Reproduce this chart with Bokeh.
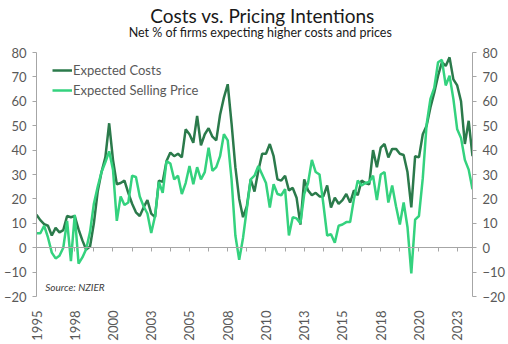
import math
from bokeh.plotting import figure
from bokeh.models import Range1d, LinearAxis, FixedTicker, Label
from bokeh.embed import file_html
from bokeh.resources import INLINE

# Quarterly data, 1995Q1 onward (net % of firms)
x_tick_labels = ["1995", "1998", "2000", "2003", "2005", "2008",
                 "2010", "2013", "2015", "2018", "2020", "2023"]

expected_costs = [
    13.5, 11.3, 9.7, 9.0, 5.0, 8.1, 6.3, 7.2, 13.0, 12.5,
    13.0, 7.5, 3.0, -0.8, 0.5, 10.0, 23.0, 31.0, 37.0, 51.0,
    36.0, 26.0, 26.5, 27.5, 22.5, 18.0, 14.5, 13.0, 16.5, 19.5,
    14.0, 12.5, 27.5, 27.0, 35.5, 39.0, 37.5, 38.5, 37.0, 48.5,
    46.5, 43.0, 54.0, 42.0, 46.5, 49.0, 45.5, 44.0, 54.5, 61.5,
    67.0, 51.0, 33.0, 20.0, 12.5, 17.0, 28.0, 23.0, 31.5, 38.5,
    38.5, 42.5, 37.5, 28.0, 27.5, 29.5, 23.5, 24.5, 20.5, 9.5,
    28.0, 23.5, 21.5, 22.5, 21.0, 21.0, 25.5, 16.5, 20.5, 18.0,
    19.5, 22.0, 18.5, 23.5, 21.5, 27.5, 26.5, 26.0, 40.0, 33.0,
    41.0, 42.5, 37.0, 40.5, 40.5, 38.5, 38.0, 31.0, 16.5, 37.5,
    37.0, 46.5, 50.0, 57.5, 63.5, 70.5, 76.0, 74.5, 78.0, 69.0,
    66.5, 60.0, 42.5, 52.0, 37.5,
]

expected_selling_price = [
    5.9, 5.9, 9.0, 4.2, -2.0, -4.4, -3.3, 0.0, 11.0, -5.5,
    13.5, -6.5, -4.0, -0.5, 6.5, 18.0, 25.0, 31.0, 35.0, 39.5,
    32.0, 11.0, 21.0, 17.5, 18.5, 29.5, 29.0, 21.0, 17.0, 14.0,
    6.0, 13.0, 27.0, 22.5, 35.5, 34.5, 28.0, 29.5, 22.0, 26.5,
    33.5, 26.0, 33.0, 28.0, 31.0, 41.0, 31.5, 33.0, 37.5, 46.5,
    44.0, 28.0, 5.0, -5.0, 4.0, 16.0, 28.0, 29.5, 33.5, 30.0,
    26.5, 16.5, 26.0, 22.0, 21.5, 24.0, 5.0, 12.5, 12.0, 10.0,
    22.0, 26.5, 36.0, 31.0, 30.0, 18.0, 5.0, 5.5, 2.0, 9.0,
    9.5, 10.5, 10.5, 20.0, 27.5, 25.5, 26.5, 27.0, 29.5, 19.5,
    30.0, 31.0, 18.5, 25.5, 17.0, 9.5, 18.5, 8.5, -10.5, 11.5,
    13.0, 28.5, 50.5, 61.0, 65.5, 76.0, 77.0, 66.5, 70.5, 61.0,
    48.5, 45.0, 36.0, 32.0, 24.0,
]

quarters = list(range(len(expected_costs)))
y_min, y_max = -20, 80

FONT = "Lato"
AXIS_GREY = "#a6a6a6"
LABEL_GREY = "#595959"
DARK = "#2b7a4b"
LIGHT = "#34d27e"

# frame spans the full height above the x labels; the value axes are bounded
# to -20..80 and the space above 80 holds the titles
FRAME_H = 344 - 48
AXIS_PX = 244
top_value = y_min + (y_max - y_min) * FRAME_H / AXIS_PX

p = figure(width=508, height=344, output_backend="svg", toolbar_location=None,
           x_range=Range1d(0, len(quarters) - 1), y_range=Range1d(y_min, top_value),
           x_axis_location=None,
           min_border_left=35, min_border_right=36, min_border_bottom=48,
           min_border_top=0)
p.outline_line_color = None
p.grid.visible = False
p.background_fill_color = "white"
p.border_fill_color = "white"

# titles (screen units from the frame's bottom-left corner)
p.add_layout(Label(x=226, y=FRAME_H - 15, x_units="screen", y_units="screen",
                   text="Costs vs. Pricing Intentions", text_font=FONT,
                   text_font_size="19px", text_color="#1a1a1a",
                   text_align="center", text_baseline="middle"))
p.add_layout(Label(x=224, y=FRAME_H - 32, x_units="screen", y_units="screen",
                   text="Net % of firms expecting higher costs and prices",
                   text_font=FONT, text_font_size="12.5px", text_color="#1a1a1a",
                   text_align="center", text_baseline="middle"))

# y axes
yticks = FixedTicker(ticks=list(range(y_min, y_max + 1, 10)))
for ax in p.yaxis:
    ax.ticker = yticks
p.add_layout(LinearAxis(ticker=yticks), "right")
for ax in p.yaxis:
    ax.bounds = (y_min, y_max)
    ax.axis_line_color = AXIS_GREY
    ax.major_tick_line_color = AXIS_GREY
    ax.minor_tick_line_color = None
    ax.major_tick_out = 4
    ax.major_tick_in = 0
    ax.major_label_standoff = 6
    ax.major_label_text_font = FONT
    ax.major_label_text_font_size = "13px"
    ax.major_label_text_color = LABEL_GREY

# x axis: line and ticks at zero
zero_axis = LinearAxis(fixed_location=0, ticker=FixedTicker(ticks=list(range(0, len(quarters), 5))))
zero_axis.axis_line_color = AXIS_GREY
zero_axis.major_tick_line_color = AXIS_GREY
zero_axis.minor_tick_line_color = None
zero_axis.major_tick_out = 4
zero_axis.major_tick_in = 0
zero_axis.major_label_text_alpha = 0
zero_axis.major_label_text_font_size = "1px"
p.add_layout(zero_axis, "below")

# x axis: labels at bottom
label_ticks = list(range(0, 10 * len(x_tick_labels), 10))
label_axis = LinearAxis(ticker=FixedTicker(ticks=label_ticks))
label_axis.major_label_overrides = {t: s for t, s in zip(label_ticks, x_tick_labels)}
label_axis.axis_line_color = None
label_axis.major_tick_line_color = None
label_axis.minor_tick_line_color = None
label_axis.major_label_orientation = math.pi / 2
label_axis.major_label_standoff = 8
label_axis.major_label_text_font = FONT
label_axis.major_label_text_font_size = "13px"
label_axis.major_label_text_color = LABEL_GREY
p.add_layout(label_axis, "below")

p.line(quarters, expected_costs, line_color=DARK, line_width=2.5,
       legend_label="Expected Costs")
p.line(quarters, expected_selling_price, line_color=LIGHT, line_width=2.5,
       legend_label="Expected Selling Price")

lg = p.legend[0]
lg.location = (16, FRAME_H - 100)
lg.border_line_color = None
lg.background_fill_alpha = 0
lg.margin = 0
lg.padding = 9
lg.spacing = 0
lg.glyph_width = 20
lg.glyph_height = 20
lg.label_height = 20
lg.label_standoff = 1
lg.label_text_font = FONT
lg.label_text_font_size = "13px"
lg.label_text_color = LABEL_GREY

p.add_layout(Label(x=2.3, y=-16, text="Source: NZIER", text_font=FONT,
                   text_font_size="10px", text_font_style="italic",
                   text_color="#404040", text_baseline="middle"))

open("out.html", "w").write(file_html(p, INLINE))
